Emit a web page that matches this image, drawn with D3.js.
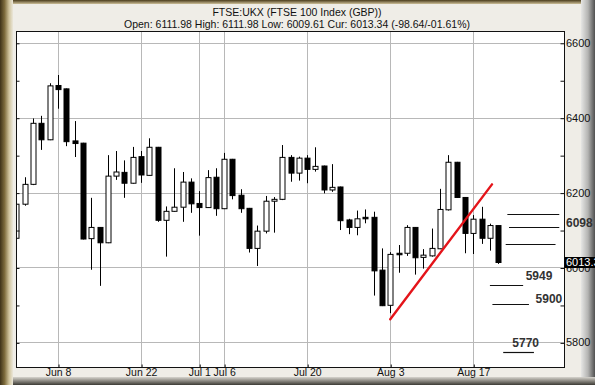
<!DOCTYPE html>
<html>
<head>
<meta charset="utf-8">
<script src="https://cdn.jsdelivr.net/npm/d3@7.9.0/dist/d3.min.js"></script>
<style>
  html, body { margin: 0; padding: 0; background: #efede7; }
  svg { display: block; font-family: "Liberation Sans", Arial, sans-serif; }
</style>
</head>
<body>
<svg id="chart" width="595" height="385"></svg>
<script>
// trading days, Jun 1 .. Aug 20
const dates = [
  'Jun 1', 'Jun 2', 'Jun 3', 'Jun 4', 'Jun 5',
  'Jun 8', 'Jun 9', 'Jun 10', 'Jun 11', 'Jun 12',
  'Jun 15', 'Jun 16', 'Jun 17', 'Jun 18', 'Jun 19',
  'Jun 22', 'Jun 23', 'Jun 24', 'Jun 25', 'Jun 26',
  'Jun 29', 'Jun 30', 'Jul 1', 'Jul 2', 'Jul 3',
  'Jul 6', 'Jul 7', 'Jul 8', 'Jul 9', 'Jul 10',
  'Jul 13', 'Jul 14', 'Jul 15', 'Jul 16', 'Jul 17',
  'Jul 20', 'Jul 21', 'Jul 22', 'Jul 23', 'Jul 24',
  'Jul 27', 'Jul 28', 'Jul 29', 'Jul 30', 'Jul 31',
  'Aug 3', 'Aug 4', 'Aug 5', 'Aug 6', 'Aug 7',
  'Aug 10', 'Aug 11', 'Aug 12', 'Aug 13', 'Aug 14',
  'Aug 17', 'Aug 18', 'Aug 19', 'Aug 20'
];
const open = [
  6078, 6169, 6222, 6385, 6341, 6486, 6477, 6338, 6332, 6077,
  6107, 6066, 6244, 6254, 6225, 6296, 6246, 6321, 6126, 6150,
  6161, 6228, 6171, 6160, 6241, 6157, 6289, 6193, 6158, 6051,
  6097, 6177, 6182, 6294, 6252, 6292, 6262, 6271, 6207, 6215,
  6127, 6107, 6134, 6134, 5993, 5899, 6038, 6038, 6107, 6027,
  6031, 6050, 6154, 6281, 6187, 6091, 6129, 6078, 6111.98
];
const high = [
  6180, 6241, 6398, 6405, 6492, 6514, 6478, 6391, 6333, 6186,
  6108, 6300, 6311, 6286, 6322, 6311, 6345, 6322, 6163, 6265,
  6255, 6238, 6204, 6260, 6265, 6306, 6290, 6209, 6159, 6112,
  6191, 6188, 6327, 6300, 6296, 6300, 6321, 6272, 6276, 6216,
  6130, 6152, 6155, 6149, 6051, 6041, 6060, 6113, 6108, 6049,
  6104, 6210, 6300, 6282, 6188, 6140, 6162, 6117, 6111.98
];
const low = [
  6070, 6165, 6220, 6314, 6340, 6424, 6324, 6295, 6075, 5994,
  5951, 6065, 6234, 6186, 6224, 6226, 6245, 6122, 6029, 6149,
  6122, 6146, 6085, 6159, 6138, 6156, 6182, 6146, 6040, 6004,
  6091, 6093, 6180, 6229, 6232, 6225, 6256, 6198, 6202, 6100,
  6089, 6086, 6118, 5925, 5897, 5878, 5986, 6031, 5981, 5997,
  6029, 6049, 6152, 6186, 6038, 6036, 6063, 6045, 6009.61
];
const close = [
  6169, 6222, 6385, 6341, 6485, 6475, 6336, 6331, 6076, 6107,
  6066, 6244, 6255, 6225, 6294, 6247, 6321, 6126, 6150, 6161,
  6228, 6170, 6160, 6240, 6157, 6289, 6192, 6157, 6051, 6097,
  6177, 6182, 6294, 6252, 6292, 6262, 6270, 6207, 6214, 6125,
  6107, 6130, 6130, 5991, 5898, 6035, 6034, 6107, 6026, 6033,
  6051, 6155, 6281, 6187, 6091, 6129, 6078, 6112, 6013.34
];

const dateTicks = ['Jun 8', 'Jun 22', 'Jul 1', 'Jul 6', 'Jul 20', 'Aug 3', 'Aug 17'];
const priceTicks = [5800, 6000, 6200, 6400, 6600];
const minorTicks = [5800, 5900, 6000, 6100, 6200, 6300, 6400, 6500, 6600];

// red trend line: [day index, price]
const trend = [[45, 5862], [57.25, 6222]];
// target levels: price, from day, to day
const levelPrice = [6142, 6107, 6063, 5952, 5902, 5774];
const levelFrom = [59.1, 59.3, 58.9, 57.0, 57.3, 58.6];
const levelTo = [65.35, 65.35, 64.9, 61.0, 61.7, 62.3];
// level captions: text, day index (left), price
const noteText = ['5949', '5900', '5770'];
const noteDay = [61.3, 62.5, 59.7];
const notePrice = [5977, 5916, 5800];

const title = 'FTSE:UKX (FTSE 100 Index (GBP))';
const subtitle = 'Open: 6111.98 High: 6111.98 Low: 6009.61 Cur: 6013.34 (-98.64/-01.61%)';
const lastPrice = 6013.34;

const width = 595, height = 385;
const plot = { left: 16, right: 564, top: 31, bottom: 367 };

const svg = d3.select('#chart');
const defs = svg.append('defs');

function grad(id, x2, y2, stops) {
  const g = defs.append('linearGradient').attr('id', id)
    .attr('x1', 0).attr('y1', 0).attr('x2', x2).attr('y2', y2);
  stops.forEach(([o, c]) => g.append('stop').attr('offset', o).attr('stop-color', c));
}
grad('leftEdge', 1, 0, [[0, '#3e3218'], [0.35, '#7d6b3c'], [0.7, '#cfc39c'], [1, '#ebe7da']]);
grad('topEdge', 0, 1, [[0, '#4a3c1c'], [1, '#cdbf98']]);
grad('rightEdge', 1, 0, [[0, '#e6e6e4'], [0.5, '#b4b4b2'], [1, '#505050']]);
grad('bottomEdge', 0, 1, [[0, '#d6d4ce'], [0.5, '#8a8780'], [1, '#3c3a34']]);

// frame
svg.append('rect').attr('width', width).attr('height', height).attr('fill', '#efede7');
svg.append('rect').attr('x', 0).attr('y', 0).attr('width', width).attr('height', 4).attr('fill', 'url(#topEdge)');
svg.append('rect').attr('x', 581).attr('y', 0).attr('width', 14).attr('height', height).attr('fill', 'url(#rightEdge)');
svg.append('rect').attr('x', 0).attr('y', 377).attr('width', width).attr('height', 8).attr('fill', 'url(#bottomEdge)');
svg.append('rect').attr('x', 0).attr('y', 0).attr('width', 13).attr('height', height).attr('fill', 'url(#leftEdge)');

// titles
svg.append('text').attr('x', 297).attr('y', 16)
  .attr('text-anchor', 'middle').attr('font-size', 10.5).attr('fill', '#111').text(title);
svg.append('text').attr('x', 297).attr('y', 28)
  .attr('text-anchor', 'middle').attr('font-size', 10.5).attr('fill', '#111').text(subtitle);

const x = d3.scaleLinear().domain([-0.06, 65.92]).range([plot.left, plot.right]);
const y = d3.scaleLinear().domain([5734.3, 6631.5]).range([plot.bottom, plot.top]);

// plot background
svg.append('rect')
  .attr('x', plot.left).attr('y', plot.top)
  .attr('width', plot.right - plot.left).attr('height', plot.bottom - plot.top)
  .attr('fill', '#fff');

svg.append('clipPath').attr('id', 'clip').append('rect')
  .attr('x', plot.left).attr('y', plot.top)
  .attr('width', plot.right - plot.left).attr('height', plot.bottom - plot.top);

const tickIdx = dateTicks.map(d => dates.indexOf(d));

// gridlines
const grid = svg.append('g').attr('stroke', '#b8b8b8').attr('stroke-width', 1);
grid.selectAll('.v').data(tickIdx).join('line')
  .attr('x1', d => Math.round(x(d)) + 0.5).attr('x2', d => Math.round(x(d)) + 0.5)
  .attr('y1', plot.top).attr('y2', plot.bottom);
grid.selectAll('.h').data(priceTicks).join('line')
  .attr('y1', d => Math.round(y(d)) + 0.5).attr('y2', d => Math.round(y(d)) + 0.5)
  .attr('x1', plot.left).attr('x2', plot.right);

const body = svg.append('g').attr('clip-path', 'url(#clip)');

// candles
const candles = dates.map((d, i) => ({ i, o: open[i], h: high[i], l: low[i], c: close[i] }));
const cw = 5;
const cg = body.append('g').selectAll('g').data(candles).join('g');
cg.append('line')
  .attr('x1', d => Math.round(x(d.i)) + 0.5).attr('x2', d => Math.round(x(d.i)) + 0.5)
  .attr('y1', d => y(d.h)).attr('y2', d => y(d.l))
  .attr('stroke', '#000').attr('stroke-width', 1);
cg.append('rect')
  .attr('x', d => Math.round(x(d.i)) - cw / 2 + 0.5)
  .attr('y', d => y(Math.max(d.o, d.c)))
  .attr('width', cw)
  .attr('height', d => Math.max(1, y(Math.min(d.o, d.c)) - y(Math.max(d.o, d.c))))
  .attr('fill', d => d.c >= d.o ? '#fff' : '#000')
  .attr('stroke', '#000').attr('stroke-width', 1);

// target levels
body.append('g').selectAll('line').data(levelPrice).join('line')
  .attr('x1', (d, i) => x(levelFrom[i])).attr('x2', (d, i) => x(levelTo[i]))
  .attr('y1', d => Math.round(y(d)) + 0.5).attr('y2', d => Math.round(y(d)) + 0.5)
  .attr('stroke', '#111').attr('stroke-width', 1.2);

// trend line
body.append('line')
  .attr('x1', x(trend[0][0])).attr('y1', y(trend[0][1]))
  .attr('x2', x(trend[1][0])).attr('y2', y(trend[1][1]))
  .attr('stroke', '#e4141a').attr('stroke-width', 2.4).attr('stroke-linecap', 'round');

// level captions
body.append('g').selectAll('text').data(noteText).join('text')
  .attr('x', (d, i) => x(noteDay[i])).attr('y', (d, i) => y(notePrice[i]))
  .attr('dy', '0.36em')
  .attr('font-size', 12).attr('font-weight', 'bold').attr('fill', '#333')
  .text(d => d);

// plot border
svg.append('rect')
  .attr('x', plot.left + 0.5).attr('y', plot.top + 0.5)
  .attr('width', plot.right - plot.left).attr('height', plot.bottom - plot.top)
  .attr('fill', 'none').attr('stroke', '#111');

// axis ticks (inward)
const rt = svg.append('g').attr('transform', `translate(${plot.right + 0.5},0.5)`)
  .call(d3.axisLeft(y).tickValues(minorTicks).tickSize(4).tickFormat(''));
const lt = svg.append('g').attr('transform', `translate(${plot.left + 0.5},0.5)`)
  .call(d3.axisRight(y).tickValues(minorTicks).tickSize(3).tickFormat(''));
const bt = svg.append('g').attr('transform', `translate(0.5,${plot.bottom + 0.5})`)
  .call(d3.axisTop(x).tickValues(tickIdx).tickSize(3).tickFormat(''));
[rt, lt, bt].forEach(g => { g.select('.domain').remove(); g.selectAll('line').attr('stroke', '#111'); });

// price labels
const ra = svg.append('g').attr('transform', `translate(${plot.right},0)`)
  .call(d3.axisRight(y).tickValues(priceTicks).tickSize(0).tickPadding(2).tickFormat(d3.format('d')));
ra.select('.domain').remove();
ra.selectAll('text').attr('font-size', 11).attr('font-family', null).attr('fill', '#111');

// date labels
const ba = svg.append('g').attr('transform', `translate(0,${plot.bottom})`)
  .call(d3.axisBottom(x).tickValues(tickIdx).tickSize(0).tickPadding(2).tickFormat(i => dates[i]));
ba.select('.domain').remove();
ba.selectAll('text').attr('font-size', 10.5).attr('font-family', null).attr('fill', '#111');

// key level on the axis
svg.append('text').attr('x', 566).attr('y', y(6120)).attr('dy', '0.36em')
  .attr('font-size', 12).attr('font-weight', 'bold').attr('fill', '#333').text('6098');

// current price tag
svg.append('rect').attr('x', plot.right + 0.5).attr('y', Math.round(y(lastPrice)) - 5)
  .attr('width', width - plot.right).attr('height', 11).attr('fill', '#000');
svg.append('text').attr('x', 566).attr('y', y(lastPrice)).attr('dy', '0.36em')
  .attr('font-size', 11).attr('fill', '#fff').text(d3.format('.2f')(lastPrice));
</script>
</body>
</html>
